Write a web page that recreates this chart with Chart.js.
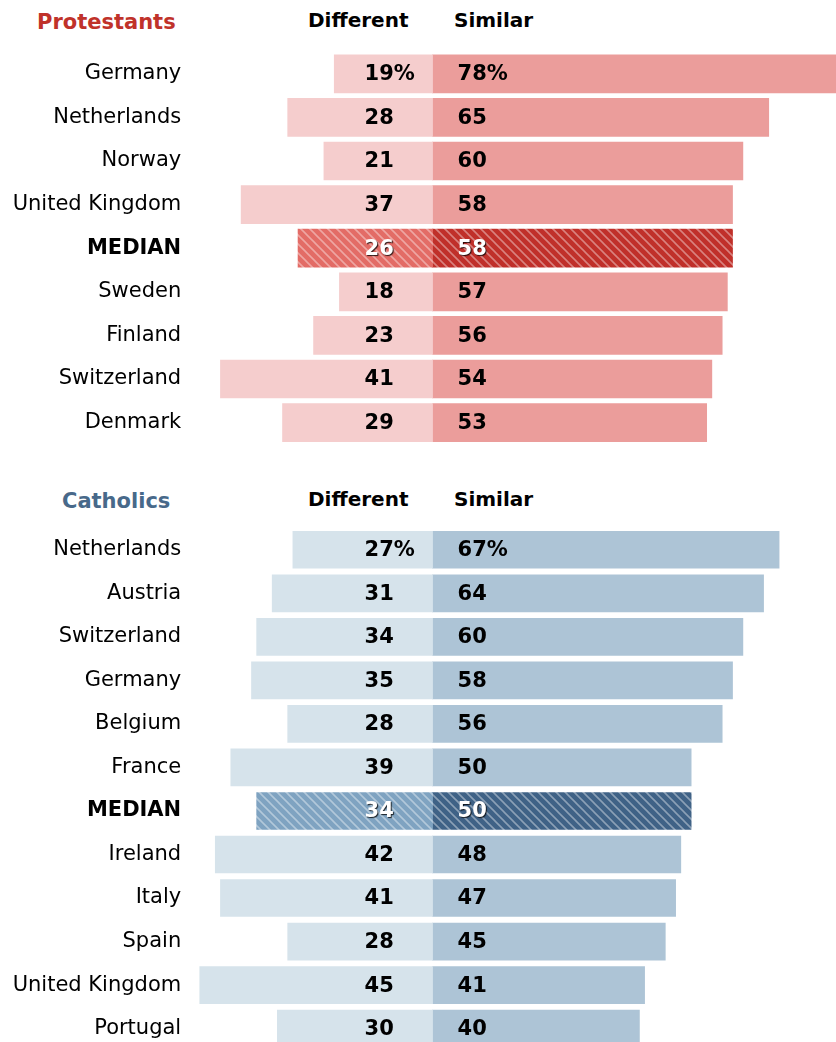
<!DOCTYPE html>
<html>
<head>
<meta charset="utf-8">
<script src="https://cdn.jsdelivr.net/npm/chart.js@4.4.0/dist/chart.umd.min.js"></script>
<style>
body{margin:0;background:#fff;width:836px;height:1042px;overflow:hidden;position:relative;font-family:"DejaVu Sans",sans-serif}
canvas{position:absolute;left:0}
.h{position:absolute;font-weight:bold;font-size:20px;line-height:20px;color:#000;white-space:nowrap}
.t{font-size:21px}
</style>
</head>
<body>
<div class="h t" style="left:37px;top:12px;color:#c0322a">Protestants</div>
<div class="h" style="left:308px;top:10px">Different</div>
<div class="h" style="left:454px;top:10px">Similar</div>
<canvas id="prot" width="836" height="459" style="top:0"></canvas>

<div class="h t" style="left:62px;top:491px;color:#48698a">Catholics</div>
<div class="h" style="left:308px;top:489px">Different</div>
<div class="h" style="left:454px;top:489px">Similar</div>
<canvas id="cath" width="836" height="595" style="top:470px"></canvas>

<script>
var protLabels = ['Germany', 'Netherlands', 'Norway', 'United Kingdom', 'MEDIAN', 'Sweden', 'Finland', 'Switzerland', 'Denmark'];
var protDifferent = [19, 28, 21, 37, 26, 18, 23, 41, 29];
var protSimilar = [78, 65, 60, 58, 58, 57, 56, 54, 53];

var cathLabels = ['Netherlands', 'Austria', 'Switzerland', 'Germany', 'Belgium', 'France', 'MEDIAN', 'Ireland', 'Italy', 'Spain', 'United Kingdom', 'Portugal'];
var cathDifferent = [27, 31, 34, 35, 28, 39, 34, 42, 41, 28, 45, 30];
var cathSimilar = [67, 64, 60, 58, 56, 50, 50, 48, 47, 45, 41, 40];

function hatch(bg) {
    var c = document.createElement('canvas');
    c.width = 9; c.height = 9;
    var g = c.getContext('2d');
    g.fillStyle = bg;
    g.fillRect(0, 0, 9, 9);
    g.strokeStyle = 'rgba(255,255,255,0.4)';
    g.lineWidth = 1.6;
    g.beginPath();
    g.moveTo(-2, -2); g.lineTo(11, 11);
    g.moveTo(-2, 7); g.lineTo(2, 11);
    g.moveTo(7, -2); g.lineTo(11, 2);
    g.stroke();
    return g.createPattern(c, 'repeat');
}

var valueLabels = {
    id: 'valueLabels',
    afterDatasetsDraw: function(chart) {
        var ctx = chart.ctx;
        var x0 = chart.scales.x.getPixelForValue(0);
        ctx.save();
        ctx.font = 'bold 21px "DejaVu Sans"';
        ctx.textAlign = 'left';
        ctx.textBaseline = 'middle';
        chart.data.datasets.forEach(function(ds, di) {
            chart.getDatasetMeta(di).data.forEach(function(bar, i) {
                var v = Math.abs(ds.data[i]);
                var txt = v + (i === 0 ? '%' : '');
                var x = di === 0 ? x0 - 68 : x0 + 25;
                if (chart.data.labels[i] === 'MEDIAN') {
                    ctx.fillStyle = '#fff';
                    ctx.shadowColor = 'rgba(0,0,0,0.8)';
                    ctx.shadowOffsetX = 1;
                    ctx.shadowOffsetY = 1;
                    ctx.shadowBlur = 1;
                } else {
                    ctx.fillStyle = '#000';
                    ctx.shadowColor = 'transparent';
                }
                ctx.fillText(txt, x, bar.y + 1);
            });
        });
        ctx.restore();
    }
};

function makeChart(id, labels, diff, sim, colors, padTop, thick) {
    var diffColors = labels.map(function(l) { return l === 'MEDIAN' ? hatch(colors[2]) : colors[0]; });
    var simColors = labels.map(function(l) { return l === 'MEDIAN' ? hatch(colors[3]) : colors[1]; });
    return new Chart(document.getElementById(id).getContext('2d'), {
        type: 'bar',
        data: {
            labels: labels,
            datasets: [{
                label: 'Different',
                data: diff.map(function(v) { return -v; }),
                backgroundColor: diffColors,
                barThickness: thick
            }, {
                label: 'Similar',
                data: sim,
                backgroundColor: simColors,
                barThickness: thick
            }]
        },
        options: {
            indexAxis: 'y',
            responsive: false,
            animation: false,
            events: [],
            layout: { padding: { top: padTop, bottom: 0, left: 0, right: 0 } },
            plugins: { legend: { display: false }, tooltip: { enabled: false } },
            scales: {
                x: { display: false, stacked: true, min: -48.2, max: 78 },
                y: {
                    stacked: true,
                    grid: { display: false, drawTicks: false },
                    border: { display: false },
                    afterFit: function(scale) { scale.width = 183.2; },
                    ticks: {
                        padding: 2,
                        color: '#000',
                        font: function(c) {
                            return c.tick && c.tick.label === 'MEDIAN'
                                ? { family: '"DejaVu Sans"', size: 21, weight: 'bold' }
                                : { family: '"DejaVu Sans"', size: 21 };
                        }
                    }
                }
            }
        },
        plugins: [valueLabels]
    });
}

makeChart('prot', protLabels, protDifferent, protSimilar,
    ['#f5cdcd', '#eb9d9b', '#e36c66', '#c0302a'], 52, 38);
makeChart('cath', cathLabels, cathDifferent, cathSimilar,
    ['#d6e3eb', '#adc4d6', '#7fa3c1', '#3f6286'], 58, 37);
</script>
</body>
</html>
